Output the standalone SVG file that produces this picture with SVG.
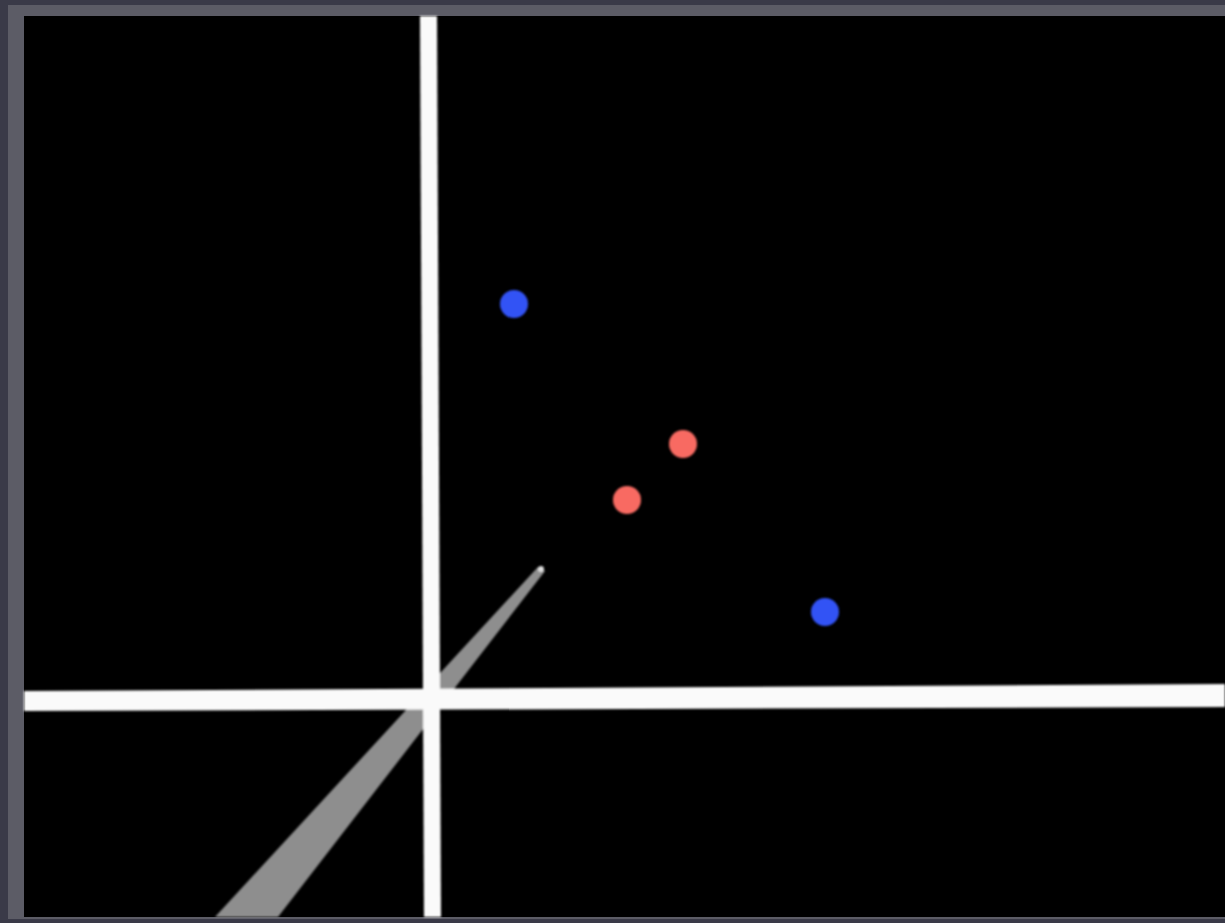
<svg xmlns="http://www.w3.org/2000/svg" width="1225" height="923" viewBox="0 0 1225 923">
<defs>
<filter id="soft" x="-20%" y="-20%" width="140%" height="140%"><feGaussianBlur stdDeviation="1"/></filter>
<style>
.blue{fill:#3352f5}
.red{fill:#f86a62}
.axis{fill:#fafafa}
</style>
</defs>
<rect x="0" y="0" width="1225" height="923" fill="#3a3a48"/>
<rect x="8" y="5" width="1217" height="914" fill="#5c5c66"/>
<rect x="24" y="16" width="1201" height="901" fill="#000"/>
<g id="scene" filter="url(#soft)">
<polygon id="cone" points="538,567 545,571 278,917 215,917" fill="#8e8e8e"/>
<circle cx="541" cy="569" r="3" fill="#e0e0e0"/>
<polygon id="axis-vertical" class="axis" points="420,16 437,16 441,917 424,917"/>
<polygon id="axis-horizontal" class="axis" points="24,691 1225,684 1225,707 24,711"/>
<circle id="blue-1" class="blue" cx="514" cy="304" r="14"/>
<circle id="blue-2" class="blue" cx="825" cy="612" r="14"/>
<circle id="red-1" class="red" cx="683" cy="444" r="14"/>
<circle id="red-2" class="red" cx="627" cy="500" r="14"/>
</g>
</svg>
